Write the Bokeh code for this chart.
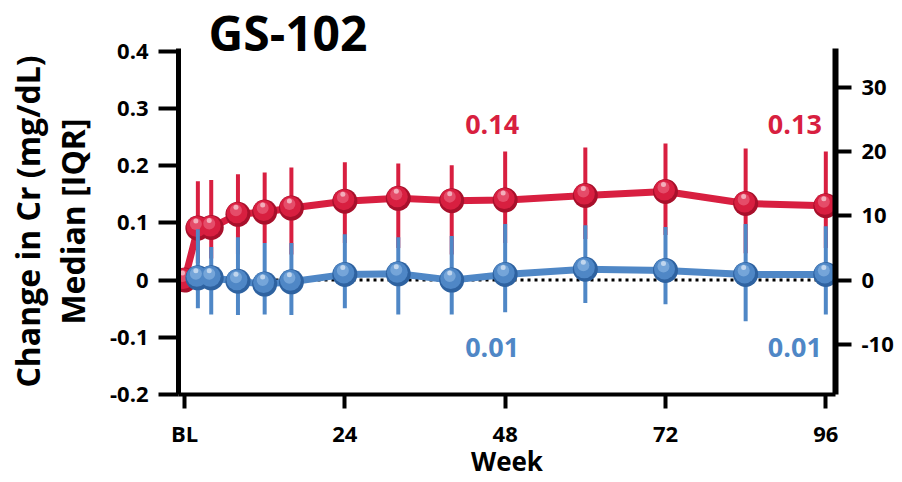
import math
from bokeh.plotting import figure
from bokeh.models import Range1d, LinearAxis, FixedTicker, Label
from bokeh.embed import file_html
from bokeh.resources import INLINE

NAN = float("nan")

# Study weeks (0 = baseline)
weeks = [0, 2, 4, 8, 12, 16, 24, 32, 40, 48, 60, 72, 84, 96]

# Red series: median change in creatinine with IQR (no interval at baseline)
red_median = [0.0, 0.091, 0.092, 0.115, 0.119, 0.126, 0.138, 0.143, 0.139, 0.14,
              0.148, 0.155, 0.134, 0.13]
red_q1 = [NAN, 0.030, 0.038, 0.045, 0.065, 0.045, 0.065, 0.056, 0.045, 0.065,
          0.072, 0.079, 0.047, 0.056]
red_q3 = [NAN, 0.173, 0.175, 0.185, 0.188, 0.197, 0.206, 0.204, 0.201, 0.225,
          0.232, 0.239, 0.230, 0.225]

# Blue series: starts at week 2
blue_weeks = weeks[1:]
blue_median = [0.004, 0.004, -0.002, -0.007, -0.003, 0.010, 0.011, 0.0, 0.01,
               0.019, 0.017, 0.010, 0.01]
blue_q1 = [-0.049, -0.060, -0.061, -0.060, -0.061, -0.049, -0.060, -0.060,
           -0.056, -0.040, -0.042, -0.072, -0.060]
blue_q3 = [0.089, 0.058, 0.075, 0.065, 0.065, 0.080, 0.075, 0.077, 0.098,
           0.096, 0.093, 0.098, 0.094]

# Weeks whose medians are written out on the chart
annotated_weeks = [48, 96]

x_ticks = [0, 24, 48, 72, 96]
x_tick_labels = ["BL", "24", "48", "72", "96"]
y_ticks = [-0.2, -0.1, 0, 0.1, 0.2, 0.3, 0.4]
y_tick_labels = ["-0.2", "-0.1", "0", "0.1", "0.2", "0.3", "0.4"]
right_ticks = [-10, 0, 10, 20, 30]
right_tick_labels = ["-10", "0", "10", "20", "30"]

title_text = "GS-102"
y_label = "Change in Cr (mg/dL)\nMedian [IQR]"
x_label = "Week"

RED, RED_DARK, RED_LIGHT = "#d81f40", "#a8102b", "#f27a92"
BLUE, BLUE_DARK, BLUE_LIGHT = "#4f87c6", "#2e62a0", "#9cc4ec"
FONT = "Open Sans"

W, H = 902, 482
LEFT, RIGHT, TOP, BOTTOM = 178, 67, 48, 88
X_MIN, X_MAX = -0.9, 97.45
Y_MIN, Y_MAX = -0.2, 0.405
RIGHT_SCALE = 89.0                  # right-hand axis units per left-hand unit

frame_w = W - LEFT - RIGHT
frame_h = H - TOP - BOTTOM
dx = (X_MAX - X_MIN) / frame_w      # data units per pixel
dy = (Y_MAX - Y_MIN) / frame_h

p = figure(width=W, height=H, x_range=Range1d(X_MIN, X_MAX),
           y_range=Range1d(Y_MIN, Y_MAX), output_backend="svg",
           toolbar_location=None, min_border_left=LEFT, min_border_right=RIGHT,
           min_border_top=TOP, min_border_bottom=BOTTOM)
p.outline_line_color = None
p.grid.visible = False
p.background_fill_color = "white"
p.border_fill_color = "white"

# title sits low in the top margin, just above the first tick
p.title.text = title_text
p.title.align = "left"
p.title.offset = 30
p.title.standoff = -32
p.title.text_font = FONT
p.title.text_font_style = "bold"
p.title.text_font_size = "48px"
p.title.text_color = "black"

p.extra_y_ranges = {"right": Range1d(Y_MIN * RIGHT_SCALE, Y_MAX * RIGHT_SCALE)}
right_axis = LinearAxis(y_range_name="right")
p.add_layout(right_axis, "right")


def style_axis(ax, ticks, labels, line_w):
    ax.ticker = FixedTicker(ticks=ticks)
    ax.major_label_overrides = dict(zip(ticks, labels))
    ax.axis_line_width = line_w
    ax.axis_line_color = "black"
    ax.major_tick_line_width = 4
    ax.major_tick_line_color = "black"
    ax.major_tick_in = 0
    ax.minor_tick_out = 0
    ax.minor_tick_in = 0
    ax.major_label_text_font = FONT
    ax.major_label_text_font_style = "bold"
    ax.major_label_text_font_size = "22px"
    ax.major_label_text_color = "black"


style_axis(p.xaxis[0], x_ticks, x_tick_labels, 4)
style_axis(p.yaxis[0], y_ticks, y_tick_labels, 5)
style_axis(right_axis, right_ticks, right_tick_labels, 6)

p.xaxis[0].major_tick_out = 14
p.xaxis[0].major_label_standoff = 9
p.xaxis[0].axis_label = x_label
p.xaxis[0].axis_label_standoff = -8
p.yaxis[0].major_tick_out = 20
p.yaxis[0].major_label_standoff = 10
p.yaxis[0].axis_label = y_label
p.yaxis[0].axis_label_standoff = 13
right_axis.major_tick_out = 16
right_axis.major_label_standoff = 10
for ax in (p.xaxis[0], p.yaxis[0]):
    ax.axis_label_text_font = FONT
    ax.axis_label_text_font_style = "bold"
    ax.axis_label_text_color = "black"
p.xaxis[0].axis_label_text_font_size = "26px"
p.yaxis[0].axis_label_text_font_size = "32px"
p.yaxis[0].axis_label_text_line_height = 1.05

# dotted zero reference
p.line([weeks[0], weeks[-1]], [0, 0], line_color="black", line_width=3,
       line_dash="3 4")


def draw_series(x, med, q1, q3, base, dark, light):
    p.line(x, med, line_color=base, line_width=7, line_join="round")
    p.segment(x0=x, y0=q1, x1=x, y1=q3, line_color=base, line_width=4)
    p.scatter(x, med, size=25, fill_color=dark, line_color=None)
    p.scatter([v - 1 * dx for v in x], [m + 1.5 * dy for m in med], size=21,
              fill_color=base, line_color=None)
    p.scatter([v - 2 * dx for v in x], [m + 4 * dy for m in med], size=12,
              fill_color=light, fill_alpha=0.5, line_color=None)
    p.scatter([v - 2 * dx for v in x], [m + 7 * dy for m in med], size=5,
              fill_color="white", fill_alpha=0.55, line_color=None)


draw_series(weeks, red_median, red_q1, red_q3, RED, RED_DARK, RED_LIGHT)
draw_series(blue_weeks, blue_median, blue_q1, blue_q3, BLUE, BLUE_DARK, BLUE_LIGHT)

# printed medians at selected weeks
for wk, xoff in zip(annotated_weeks, [-13, -31]):
    r = red_median[weeks.index(wk)]
    b = blue_median[blue_weeks.index(wk)]
    p.add_layout(Label(x=wk, y=0.272, x_offset=xoff, text=f"{r:.2f}",
                       text_align="center", text_baseline="middle",
                       text_font=FONT, text_font_style="bold",
                       text_font_size="27px", text_color=RED))
    p.add_layout(Label(x=wk, y=-0.117, x_offset=xoff, text=f"{b:.2f}",
                       text_align="center", text_baseline="middle",
                       text_font=FONT, text_font_style="bold",
                       text_font_size="27px", text_color=BLUE))

open("out.html", "w").write(file_html(p, INLINE))
